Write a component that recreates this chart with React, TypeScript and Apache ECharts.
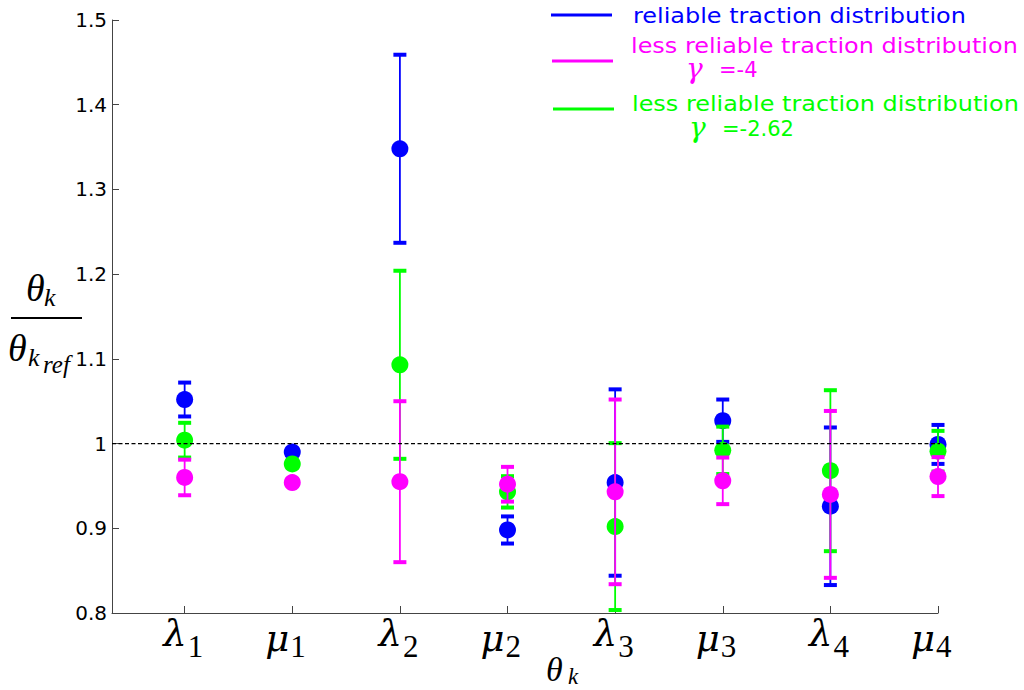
import React, { useEffect, useRef } from 'react';
import * as echarts from 'echarts';

// x positions of the parameters θk
const paramPositions = [1, 2, 3, 4, 5, 6, 7, 8];
const paramLetters = ['λ', 'μ', 'λ', 'μ', 'λ', 'μ', 'λ', 'μ'];
const paramSubscripts = ['1', '1', '2', '2', '3', '3', '4', '4'];

// reliable traction distribution (blue)
const reliableMean = [1.052, 0.990, 1.348, 0.898, 0.954, 1.027, 0.926, 0.999];
const reliableErr = [0.020, 0.004, 0.111, 0.016, 0.110, 0.025, 0.093, 0.023];

// less reliable traction distribution, γ = -2.62 (green)
const gamma262Mean = [1.004, 0.976, 1.093, 0.943, 0.902, 0.992, 0.968, 0.991];
const gamma262Err = [0.0205, 0.004, 0.111, 0.0185, 0.0985, 0.028, 0.095, 0.024];

// less reliable traction distribution, γ = -4 (magenta)
const gamma4Mean = [0.960, 0.954, 0.955, 0.952, 0.943, 0.956, 0.940, 0.961];
const gamma4Err = [0.021, 0.004, 0.095, 0.0205, 0.109, 0.0275, 0.0985, 0.023];

const yMin = 0.8;
const yMax = 1.5;
const yStep = 0.1;
const xMin = 0.325;
const xMax = 8;
const refLine = 1;

const BLUE = '#0000ff';
const GREEN = '#00ff00';
const MAGENTA = '#ff00ff';

function buildData(mean: number[], err: number[]) {
  return paramPositions.map((x, i) => [x, mean[i], mean[i] - err[i], mean[i] + err[i]]);
}

function errorSeries(name: string, color: string, mean: number[], err: number[]) {
  return {
    type: 'custom',
    name,
    clip: false,
    z: 3,
    data: buildData(mean, err),
    renderItem: (params: any, api: any) => {
      const x = api.value(0);
      const pv = api.coord([x, api.value(1)]);
      const pl = api.coord([x, api.value(2)]);
      const ph = api.coord([x, api.value(3)]);
      return {
        type: 'group',
        children: [
          { type: 'line', shape: { x1: pl[0], y1: pl[1], x2: ph[0], y2: ph[1] }, style: { stroke: color, lineWidth: 1.8 } },
          { type: 'rect', shape: { x: pl[0] - 6.5, y: pl[1] - 2, width: 13, height: 4 }, style: { fill: color } },
          { type: 'rect', shape: { x: ph[0] - 6.5, y: ph[1] - 2, width: 13, height: 4 }, style: { fill: color } },
          { type: 'circle', shape: { cx: pv[0], cy: pv[1], r: 8.5 }, style: { fill: color } },
        ],
      };
    },
  };
}

const SERIF = '"Liberation Serif", "DejaVu Serif", serif';
const DSERIF = '"DejaVu Serif", "Liberation Serif", serif';
const SANS = '"DejaVu Sans", sans-serif';

function txt(text: string, x: number, y: number, size: number, opts: any = {}) {
  return {
    type: 'text',
    x,
    y,
    scaleX: opts.scaleX ?? 1,
    style: {
      text,
      fontSize: size,
      fontFamily: opts.family ?? SERIF,
      fontStyle: opts.italic ? 'italic' : 'normal',
      fill: opts.color ?? '#000',
      align: opts.align ?? 'left',
      verticalAlign: 'middle',
    },
  };
}

export default function App() {
  const ref = useRef<HTMLDivElement>(null);

  useEffect(() => {
    if (!ref.current) return;
    const chart = echarts.init(ref.current, null, { renderer: 'svg' });
    chart.setOption({
      animation: false,
      backgroundColor: '#fff',
      grid: { left: 112, right: 86, top: 20, bottom: 77, containLabel: false },
      xAxis: {
        type: 'value',
        min: xMin,
        max: xMax,
        axisLine: { show: true, onZero: false, lineStyle: { color: '#444', width: 1 } },
        axisTick: { show: true, inside: true, length: 7, customValues: paramPositions, lineStyle: { color: '#444' } },
        axisLabel: { show: false },
        splitLine: { show: false },
      },
      yAxis: {
        type: 'value',
        min: yMin,
        max: yMax,
        interval: yStep,
        axisLine: { show: true, onZero: false, lineStyle: { color: '#444', width: 1 } },
        axisTick: { show: true, inside: true, length: 7, lineStyle: { color: '#444' } },
        axisLabel: {
          color: '#000',
          fontSize: 20,
          fontFamily: SANS,
          margin: 5,
          formatter: (v: number) => String(Number(v.toFixed(1))),
        },
        splitLine: { show: false },
      },
      series: [
        errorSeries('reliable', BLUE, reliableMean, reliableErr),
        errorSeries('gamma -2.62', GREEN, gamma262Mean, gamma262Err),
        errorSeries('gamma -4', MAGENTA, gamma4Mean, gamma4Err),
        {
          type: 'line',
          name: 'reference',
          data: [[xMin, refLine], [8.22, refLine]],
          symbol: 'none',
          clip: false,
          z: 5,
          lineStyle: { color: '#000', width: 1.3, type: [4, 2.5] },
        },
      ],
    });

    const tickX = paramPositions.map((p) => chart.convertToPixel({ xAxisIndex: 0 }, p) as number);
    const labels: any[] = [];
    tickX.forEach((tx, i) => {
      const isLambda = paramLetters[i] === 'λ';
      const mainRight = isLambda ? tx + 2 : tx - 3;
      const subLeft = isLambda ? tx + 3 : tx - 2;
      labels.push(txt(paramLetters[i], mainRight, isLambda ? 633 : 638, 37, { italic: true, family: DSERIF, align: 'right' }));
      labels.push(txt(paramSubscripts[i], subLeft, 646, 31, {}));
    });

    chart.setOption({
      graphic: [
        ...labels,
        // x axis title θk
        txt('θ', 546, 669, 34, { italic: true }),
        txt('k', 568, 676, 23, { italic: true }),
        // y axis title θk / θk_ref
        txt('θ', 26, 288, 38, { italic: true }),
        txt('k', 44, 297, 26, { italic: true }),
        { type: 'line', shape: { x1: 11, y1: 318, x2: 82, y2: 318 }, style: { stroke: '#000', lineWidth: 2 } },
        txt('θ', 8, 348, 38, { italic: true }),
        txt('k', 28, 357, 26, { italic: true }),
        txt('ref', 43, 364, 25, { italic: true }),
        // legend
        { type: 'line', shape: { x1: 551, y1: 15, x2: 612, y2: 15 }, style: { stroke: BLUE, lineWidth: 3 } },
        { type: 'line', shape: { x1: 552, y1: 61, x2: 613, y2: 61 }, style: { stroke: MAGENTA, lineWidth: 3 } },
        { type: 'line', shape: { x1: 553, y1: 109, x2: 614, y2: 109 }, style: { stroke: GREEN, lineWidth: 3 } },
        txt('reliable traction distribution', 633, 16, 21, { family: SANS, color: BLUE, scaleX: 1.14 }),
        txt('less reliable traction distribution', 631, 46, 21, { family: SANS, color: MAGENTA, scaleX: 1.14 }),
        txt('γ', 686, 68, 28, { italic: true, family: DSERIF, color: MAGENTA }),
        txt('=-4', 719, 70, 21, { family: SANS, color: MAGENTA }),
        txt('less reliable traction distribution', 632, 104, 21, { family: SANS, color: GREEN, scaleX: 1.14 }),
        txt('γ', 689, 127, 28, { italic: true, family: DSERIF, color: GREEN }),
        txt('=-2.62', 722, 129, 21, { family: SANS, color: GREEN }),
      ],
    });

    return () => chart.dispose();
  }, []);

  return (
    <div
      ref={ref}
      style={{ position: 'fixed', left: 0, top: 0, width: 1024, height: 690, background: '#fff' }}
    />
  );
}
